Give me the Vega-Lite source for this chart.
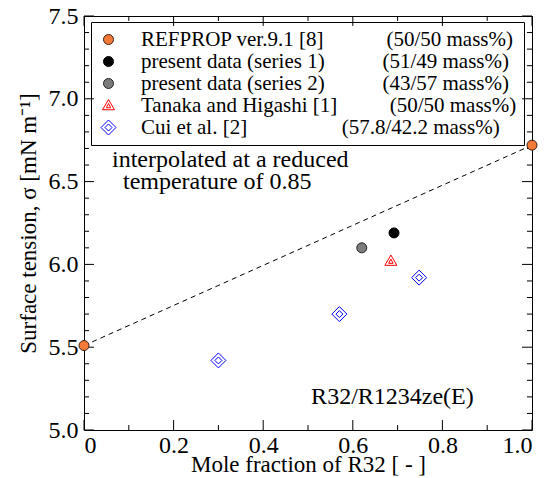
{
  "$schema": "https://vega.github.io/schema/vega-lite/v6.json",
  "width": 448,
  "height": 414,
  "autosize": {"type": "none"},
  "padding": {"left": 84, "top": 16, "right": 16, "bottom": 48},
  "background": "white",
  "config": {
    "view": {"stroke": "black", "strokeWidth": 1, "fill": "transparent"},
    "axis": {
      "grid": false, "domain": false, "tickColor": "black", "tickWidth": 1,
      "labelFont": "Liberation Serif", "labelFontSize": 24, "labelColor": "black",
      "titleFont": "Liberation Serif", "titleFontSize": 23, "titleFontWeight": "normal", "titleColor": "black"
    },
    "legend": {
      "labelFont": "Liberation Serif", "labelFontSize": 21, "labelColor": "black", "labelLimit": 800,
      "symbolSize": 100, "symbolStrokeWidth": 1, "rowPadding": 0, "padding": 7,
      "strokeColor": "black", "labelOffset": 22
    }
  },
  "datasets": {
    "xMajor": [{"v": 0}, {"v": 0.2}, {"v": 0.4}, {"v": 0.6}, {"v": 0.8}, {"v": 1}],
    "xMinor": [{"v": 0.1}, {"v": 0.3}, {"v": 0.5}, {"v": 0.7}, {"v": 0.9}],
    "yMajor": [{"v": 5}, {"v": 5.5}, {"v": 6}, {"v": 6.5}, {"v": 7}, {"v": 7.5}],
    "yMinor": [{"v": 5.1}, {"v": 5.2}, {"v": 5.3}, {"v": 5.4}, {"v": 5.6}, {"v": 5.7}, {"v": 5.8}, {"v": 5.9}, {"v": 6.1}, {"v": 6.2}, {"v": 6.3}, {"v": 6.4}, {"v": 6.6}, {"v": 6.7}, {"v": 6.8}, {"v": 6.9}, {"v": 7.1}, {"v": 7.2}, {"v": 7.3}, {"v": 7.4}]
  },
  "data": {
    "values": [
      {"series": "REFPROP ver.9.1 [8]", "x": 0, "y": 5.51},
      {"series": "REFPROP ver.9.1 [8]", "x": 1, "y": 6.72},
      {"series": "present data (series 1)", "x": 0.692, "y": 6.19},
      {"series": "present data (series 2)", "x": 0.62, "y": 6.10},
      {"series": "Tanaka and Higashi [1]", "x": 0.685, "y": 6.02},
      {"series": "Cui et al. [2]", "x": 0.30, "y": 5.42},
      {"series": "Cui et al. [2]", "x": 0.57, "y": 5.70},
      {"series": "Cui et al. [2]", "x": 0.748, "y": 5.92}
    ]
  },
  "layer": [
    {
      "data": {"name": "xMajor"},
      "mark": {"type": "rule", "color": "black", "strokeWidth": 1},
      "encoding": {
        "x": {"field": "v", "type": "quantitative", "axis": null},
        "y": {"datum": 5, "type": "quantitative", "axis": null},
        "y2": {"datum": 5.06}
      }
    },
    {
      "data": {"name": "xMajor"},
      "mark": {"type": "rule", "color": "black", "strokeWidth": 1},
      "encoding": {
        "x": {"field": "v", "type": "quantitative", "axis": null},
        "y": {"datum": 7.5, "type": "quantitative", "axis": null},
        "y2": {"datum": 7.44}
      }
    },
    {
      "data": {"name": "xMinor"},
      "mark": {"type": "rule", "color": "black", "strokeWidth": 1},
      "encoding": {
        "x": {"field": "v", "type": "quantitative", "axis": null},
        "y": {"datum": 5, "type": "quantitative", "axis": null},
        "y2": {"datum": 5.03}
      }
    },
    {
      "data": {"name": "xMinor"},
      "mark": {"type": "rule", "color": "black", "strokeWidth": 1},
      "encoding": {
        "x": {"field": "v", "type": "quantitative", "axis": null},
        "y": {"datum": 7.5, "type": "quantitative", "axis": null},
        "y2": {"datum": 7.47}
      }
    },
    {
      "data": {"name": "yMajor"},
      "mark": {"type": "rule", "color": "black", "strokeWidth": 1},
      "encoding": {
        "y": {"field": "v", "type": "quantitative", "axis": null},
        "x": {"datum": 0, "type": "quantitative", "axis": null},
        "x2": {"datum": 0.0223}
      }
    },
    {
      "data": {"name": "yMajor"},
      "mark": {"type": "rule", "color": "black", "strokeWidth": 1},
      "encoding": {
        "y": {"field": "v", "type": "quantitative", "axis": null},
        "x": {"datum": 1, "type": "quantitative", "axis": null},
        "x2": {"datum": 0.9777}
      }
    },
    {
      "data": {"name": "yMinor"},
      "mark": {"type": "rule", "color": "black", "strokeWidth": 1},
      "encoding": {
        "y": {"field": "v", "type": "quantitative", "axis": null},
        "x": {"datum": 0, "type": "quantitative", "axis": null},
        "x2": {"datum": 0.0112}
      }
    },
    {
      "data": {"name": "yMinor"},
      "mark": {"type": "rule", "color": "black", "strokeWidth": 1},
      "encoding": {
        "y": {"field": "v", "type": "quantitative", "axis": null},
        "x": {"datum": 1, "type": "quantitative", "axis": null},
        "x2": {"datum": 0.9888}
      }
    },
    {
      "transform": [{"filter": "datum.series == 'REFPROP ver.9.1 [8]'"}],
      "mark": {"type": "line", "color": "black", "strokeWidth": 1, "strokeDash": [5, 4]},
      "encoding": {
        "x": {"field": "x", "type": "quantitative", "scale": {"domain": [0, 1], "nice": false}, "axis": null},
        "y": {"field": "y", "type": "quantitative", "scale": {"domain": [5, 7.5], "nice": false, "zero": false}, "axis": null}
      }
    },
    {
      "mark": {"type": "point", "opacity": 1, "strokeWidth": 1, "size": 100},
      "encoding": {
        "x": {"field": "x", "type": "quantitative",
          "axis": {"orient": "bottom", "values": [0,0.2,0.4,0.6,0.8,1],
            "labelExpr": "datum.value == 0 ? '0' : format(datum.value, '.1f')",
            "tickSize": -10, "tickColor": "transparent", "labelPadding": 13, "title": "Mole fraction of R32 [ - ]", "titlePadding": -4}},
        "y": {"field": "y", "type": "quantitative",
          "axis": {"orient": "left", "values": [5,5.5,6,6.5,7,7.5],
            "labelExpr": "format(datum.value, '.1f')",
            "tickSize": -10, "tickColor": "transparent", "labelPadding": 16, "title": "Surface tension,  σ [mN m⁻¹]", "titlePadding": 8}},
        "shape": {"field": "series", "type": "nominal",
          "scale": {"domain": ["REFPROP ver.9.1 [8]", "present data (series 1)", "present data (series 2)", "Tanaka and Higashi [1]", "Cui et al. [2]"],
            "range": ["circle", "circle", "circle", "M0,-1.2L1.2,0.85L-1.2,0.85Z M0,-0.4L0.45,0.45L-0.45,0.45Z", "M0,-1.5L1.5,0L0,1.5L-1.5,0Z M0,-0.7L0.7,0L0,0.7L-0.7,0Z"]},
          "legend": {"title": null, "orient": "none", "legendX": 7, "legendY": 6,
            "labelExpr": "datum.label == 'REFPROP ver.9.1 [8]' ? datum.label + '\u00a0\u00a0\u00a0\u00a0\u00a0\u00a0\u00a0\u00a0\u00a0\u00a0\u00a0\u00a0(50/50 mass%)' : datum.label == 'present data (series 1)' ? datum.label + '\u00a0\u00a0\u00a0\u00a0\u00a0\u00a0\u00a0\u00a0\u00a0\u00a0\u00a0(51/49 mass%)' : datum.label == 'present data (series 2)' ? datum.label + '\u00a0\u00a0\u00a0\u00a0\u00a0\u00a0\u00a0\u00a0\u00a0\u00a0\u00a0(43/57 mass%)' : datum.label == 'Tanaka and Higashi [1]' ? datum.label + '\u00a0\u00a0\u00a0\u00a0\u00a0\u00a0\u00a0\u00a0\u00a0\u00a0(50/50 mass%)' : datum.label + '\u00a0\u00a0\u00a0\u00a0\u00a0\u00a0\u00a0\u00a0\u00a0\u00a0\u00a0\u00a0\u00a0\u00a0\u00a0\u00a0\u00a0\u00a0(57.8/42.2 mass%)'"}},
        "fill": {"field": "series", "type": "nominal",
          "scale": {"domain": ["REFPROP ver.9.1 [8]", "present data (series 1)", "present data (series 2)", "Tanaka and Higashi [1]", "Cui et al. [2]"],
            "range": ["#f47a3a", "#000000", "#7c7c7c", "transparent", "transparent"]}},
        "stroke": {"field": "series", "type": "nominal",
          "scale": {"domain": ["REFPROP ver.9.1 [8]", "present data (series 1)", "present data (series 2)", "Tanaka and Higashi [1]", "Cui et al. [2]"],
            "range": ["#3a2010", "#000000", "#222222", "#ff0000", "#0000ff"]}}
      }
    },
    {
      "data": {"values": [{}]},
      "mark": {"type": "text", "text": "interpolated at a reduced", "font": "Liberation Serif", "fontSize": 24, "align": "left", "baseline": "middle", "color": "black"},
      "encoding": {
        "x": {"datum": 0.0625, "type": "quantitative", "axis": null},
        "y": {"datum": 6.63, "type": "quantitative", "axis": null}
      }
    },
    {
      "data": {"values": [{}]},
      "mark": {"type": "text", "text": "temperature of 0.85", "font": "Liberation Serif", "fontSize": 24, "align": "left", "baseline": "middle", "color": "black"},
      "encoding": {
        "x": {"datum": 0.087, "type": "quantitative", "axis": null},
        "y": {"datum": 6.50, "type": "quantitative", "axis": null}
      }
    },
    {
      "data": {"values": [{}]},
      "mark": {"type": "text", "text": "R32/R1234ze(E)", "font": "Liberation Serif", "fontSize": 24, "align": "right", "baseline": "middle", "color": "black"},
      "encoding": {
        "x": {"datum": 0.87, "type": "quantitative", "axis": null},
        "y": {"datum": 5.20, "type": "quantitative", "axis": null}
      }
    }
  ],
  "resolve": {"axis": {"x": "independent", "y": "independent"}}
}
